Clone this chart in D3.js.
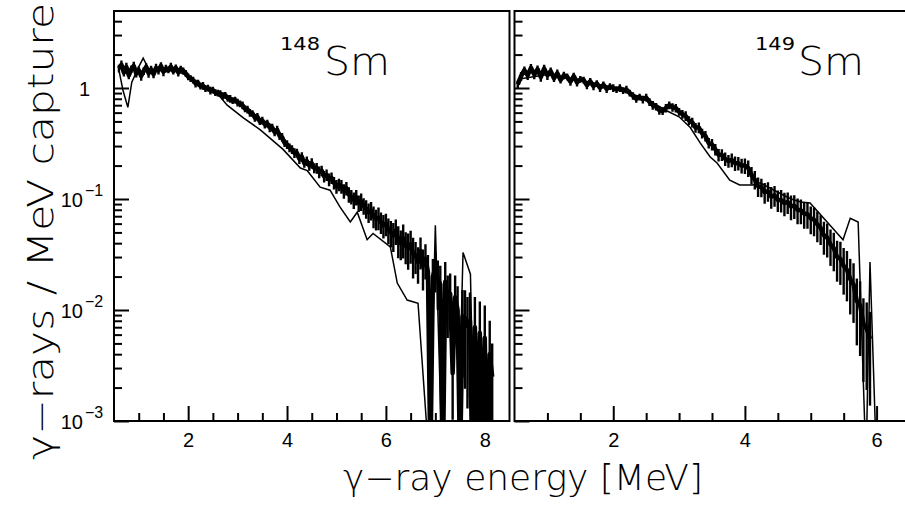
<!DOCTYPE html>
<html><head><meta charset="utf-8">
<script src="https://cdn.jsdelivr.net/npm/d3@7"></script>
<style>
body{margin:0;background:#fff}
svg{display:block}
text{font-family:"Liberation Sans",Arial,sans-serif;fill:#000}
.title{font-family:"DejaVu Sans ExtraLight","DejaVu Sans","Liberation Sans",sans-serif;font-weight:200}
.sup{font-family:"DejaVu Sans","Liberation Sans",sans-serif;font-weight:normal}
</style>
</head><body>
<svg id="chart" width="905" height="506"></svg>
<script>
// ---------------- data ----------------
// 148Sm measured spectrum (bins of 0.05 MeV starting at 0.60 MeV)
const start148 = 0.60, step148 = 0.05;
const data148 = [
  1.50,1.62,1.38,1.55,1.30,1.48,1.58,1.35,1.45,1.28,
  1.42,1.55,1.36,1.47,1.33,1.52,1.44,1.58,1.40,1.50,
  1.46,1.56,1.42,1.52,1.38,1.48,1.43,1.36,1.26,1.22,
  1.18,1.10,1.11,1.04,1.05,0.99,1.00,0.95,0.96,0.91,
  0.90,0.89,0.85,0.86,0.81,0.80,0.77,0.78,0.74,0.72,
  0.70,0.65,0.64,0.60,0.59,0.54,0.55,0.50,0.51,0.47,
  0.48,0.44,0.44,0.40,0.42,0.37,0.36,0.32,0.31,0.29,
  0.28,0.26,0.26,0.23,0.24,0.21,0.22,0.20,0.21,0.19,
  0.19,0.175,0.18,0.16,0.165,0.15,0.155,0.14,0.13,0.135,
  0.13,0.118,0.125,0.11,0.105,0.098,0.104,0.092,0.095,0.087,
  0.082,0.076,0.079,0.070,0.066,0.068,0.062,0.058,0.060,0.053,
  0.050,0.047,0.052,0.043,0.040,0.044,0.038,0.036,0.039,0.032,
  0.031,0.027,0.034,0.025,0.029,0.022,0.0004,0.020,0.024,0.019,
  0.017,0.0003,0.018,0.013,0.014,0.0027,0.013,0.010,0.0004,0.0088,
  0.0085,0.0072,0.0080,0.0003,0.0070,0.0004,0.0062,0.0003,0.0056,0.0002,
  0.0040,0.0025
];
// relative errors of the 148Sm points
const err148 = [
  .08,.09,.08,.09,.08,.08,.09,.08,.08,.09,
  .08,.08,.09,.08,.08,.09,.08,.08,.09,.08,
  .07,.08,.07,.07,.08,.07,.07,.07,.07,.07,
  .07,.08,.07,.07,.08,.07,.07,.08,.07,.07,
  .07,.07,.08,.07,.07,.08,.07,.07,.08,.07,
  .08,.07,.08,.08,.07,.08,.08,.07,.08,.08,
  .08,.09,.08,.08,.09,.08,.09,.08,.09,.09,
  .09,.10,.09,.10,.10,.09,.10,.10,.11,.10,
  .11,.12,.11,.12,.12,.13,.12,.13,.14,.13,
  .14,.15,.14,.16,.15,.17,.16,.17,.18,.17,
  .19,.20,.19,.22,.21,.23,.22,.24,.23,.26,
  .27,.29,.26,.32,.30,.34,.32,.36,.33,.40,
  .32,.36,.32,.40,.35,.42,.40,.44,.40,.47,
  .47,.52,.50,.57,.52,.62,.57,.64,.62,.72,
  .77,.82,.80,.60,.87,.60,.92,.60,.96,.60,
  1.0,1.0
];
// 148Sm simulation (thin line): energy [MeV], value
const simE148 = [0.60,0.68,0.78,0.86,1.00,1.09,1.23,1.50,1.80,2.00,2.30,2.65,2.79,3.11,3.46,3.92,4.27,4.41,4.67,4.87,5.07,5.28,5.42,5.62,5.74,6.09,6.23,6.43,6.65,6.88,7.00,7.14,7.45,7.56,7.71,7.79];
const simV148 = [1.45,0.96,0.67,1.13,1.55,1.86,1.40,1.45,1.40,1.28,1.05,0.83,0.70,0.54,0.42,0.28,0.19,0.18,0.128,0.12,0.085,0.062,0.076,0.043,0.049,0.037,0.0175,0.0123,0.0115,0.0004,0.058,0.0004,0.0004,0.033,0.021,0.0004];

// 149Sm measured spectrum (bins of 0.05 MeV starting at 0.55 MeV)
const start149 = 0.55, step149 = 0.05;
const data149 = [
  1.08,1.28,1.45,1.30,1.52,1.32,1.48,1.25,1.50,1.30,
  1.42,1.22,1.36,1.18,1.30,1.26,1.14,1.28,1.12,1.20,
  1.18,1.06,1.15,1.04,1.10,1.00,1.07,0.98,1.03,1.00,
  0.97,1.00,0.95,0.97,0.90,0.85,0.80,0.83,0.79,0.82,
  0.75,0.70,0.68,0.63,0.62,0.66,0.70,0.67,0.66,0.61,
  0.58,0.56,0.51,0.49,0.44,0.44,0.39,0.37,0.32,0.31,
  0.28,0.25,0.25,0.23,0.22,0.225,0.21,0.21,0.20,0.20,
  0.19,0.165,0.15,0.13,0.128,0.115,0.118,0.105,0.108,0.098,
  0.098,0.092,0.094,0.086,0.087,0.080,0.079,0.074,0.073,0.067,
  0.065,0.059,0.055,0.047,0.045,0.039,0.036,0.030,0.029,0.025,
  0.023,0.019,0.017,0.012,0.011,0.0075,0.0068,0.0055
];
const err149 = [
  .08,.09,.08,.09,.08,.09,.08,.09,.08,.09,
  .08,.07,.08,.07,.08,.07,.08,.07,.08,.07,
  .07,.08,.07,.08,.07,.08,.07,.08,.07,.08,
  .07,.08,.07,.08,.07,.08,.08,.07,.08,.08,
  .08,.09,.08,.09,.08,.09,.08,.09,.09,.08,
  .09,.10,.09,.10,.10,.11,.10,.11,.11,.12,
  .12,.13,.12,.14,.13,.14,.15,.14,.15,.16,
  .17,.18,.19,.20,.19,.21,.20,.22,.21,.22,
  .23,.24,.22,.25,.24,.26,.25,.27,.26,.28,
  .29,.31,.30,.33,.34,.36,.38,.40,.42,.45,
  .48,.52,.55,.60,.65,.70,.72,.75
];
const simE149 = [0.55,1.00,1.50,2.00,2.50,2.82,3.00,3.17,3.32,3.47,3.58,3.77,3.92,4.12,4.23,4.50,4.70,4.85,4.99,5.49,5.60,5.72,5.84,5.90,6.00];
const simV149 = [1.20,1.32,1.16,1.00,0.80,0.62,0.55,0.44,0.32,0.24,0.21,0.148,0.134,0.134,0.140,0.115,0.100,0.094,0.092,0.043,0.067,0.062,0.0004,0.027,0.0004];

// axes
const yDomain = [1e-3, 4.94];
const yMajor = [1e-3, 1e-2, 1e-1, 1];
const yMajorExp = ["−3", "−2", "−1", ""];
const xDomain148 = [0.5, 8.5], xMajor148 = [2, 4, 6, 8];
const xDomain149 = [0.5, 6.5], xMajor149 = [2, 4, 6];
const panelLabels = [{iso: "148", el: "Sm"}, {iso: "149", el: "Sm"}];
const xTitle = "γ−ray energy [MeV]";
const yTitle = "γ−rays / MeV capture";

// ---------------- drawing ----------------
const svg = d3.select("#chart");
const plotTop = 11, plotBottom = 421;
const y = d3.scaleLog().domain(yDomain).range([plotBottom, plotTop]);

const yMinor = [];
yMajor.forEach(d => { for (let k = 2; k <= 9; k++) if (k * d <= yDomain[1]) yMinor.push(k * d); });

function buildPts(start, step, vals, errs) {
  return vals.map((v, i) => ({e: start + i * step, v: v, r: errs[i]}));
}

const panels = [
  {x0: 114, x1: 509.5, dom: xDomain148, major: xMajor148,
   pts: buildPts(start148, step148, data148, err148),
   sim: simE148.map((e, i) => ({e, v: simV148[i]})),
   label: panelLabels[0], supX: 320, smX: 324, labels: true},
  {x0: 514.5, x1: 909.5, dom: xDomain149, major: xMajor149,
   pts: buildPts(start149, step149, data149, err149),
   sim: simE149.map((e, i) => ({e, v: simV149[i]})),
   label: panelLabels[1], supX: 795, smX: 798, labels: false}
];

panels.forEach((p, pi) => {
  const x = d3.scaleLinear().domain(p.dom).range([p.x0, p.x1]);
  const g = svg.append("g");
  const clipId = "clip" + pi;
  svg.append("clipPath").attr("id", clipId).append("rect")
    .attr("x", p.x0).attr("y", plotTop).attr("width", p.x1 - p.x0).attr("height", plotBottom - plotTop);
  const plot = g.append("g").attr("clip-path", `url(#${clipId})`);
  const yy = v => y(Math.max(v, 1e-5));

  // error bars
  plot.selectAll("line.err").data(p.pts).enter().append("line")
    .attr("x1", d => x(d.e)).attr("x2", d => x(d.e))
    .attr("y1", d => yy(d.v * (1 - d.r))).attr("y2", d => yy(d.v * (1 + d.r)))
    .attr("stroke", "#000").attr("stroke-width", 2.4);
  // data line
  plot.append("path").datum(p.pts)
    .attr("d", d3.line().x(d => x(d.e)).y(d => yy(d.v)))
    .attr("fill", "none").attr("stroke", "#000").attr("stroke-width", 4.5)
    .attr("stroke-linejoin", "round");
  // simulation line
  plot.append("path").datum(p.sim)
    .attr("d", d3.line().x(d => x(d.e)).y(d => yy(d.v)))
    .attr("fill", "none").attr("stroke", "#000").attr("stroke-width", 1.5);

  // x ticks
  const xMinor = d3.range(p.dom[0] + 0.5, p.dom[1], 0.5).filter(v => !p.major.includes(v));
  const axMaj = g.append("g").attr("transform", `translate(0,${plotBottom})`)
    .call(d3.axisBottom(x).tickValues(p.major).tickSize(-15).tickSizeOuter(0).tickPadding(12).tickFormat(d3.format("d")));
  const axMin = g.append("g").attr("transform", `translate(0,${plotBottom})`)
    .call(d3.axisBottom(x).tickValues(xMinor).tickSize(-8).tickSizeOuter(0).tickFormat(""));
  // y ticks
  const ayMaj = g.append("g").attr("transform", `translate(${p.x0},0)`)
    .call(d3.axisRight(y).tickValues(yMajor).tickSize(15).tickSizeOuter(0).tickFormat(""));
  const ayMin = g.append("g").attr("transform", `translate(${p.x0},0)`)
    .call(d3.axisRight(y).tickValues(yMinor).tickSize(8).tickSizeOuter(0).tickFormat(""));
  [axMaj, axMin, ayMaj, ayMin].forEach(a => {
    a.select(".domain").remove();
    a.selectAll("line").attr("stroke", "#000").attr("stroke-width", 2);
    a.selectAll("text").attr("font-size", 20).attr("font-family", "Liberation Sans, Arial, sans-serif").attr("fill", "#000");
  });

  // frame
  g.append("rect").attr("x", p.x0).attr("y", plotTop).attr("width", p.x1 - p.x0).attr("height", plotBottom - plotTop)
    .attr("fill", "none").attr("stroke", "#000").attr("stroke-width", 2);

  // y labels on left panel
  if (p.labels) {
    yMajor.forEach((v, i) => {
      const ty = y(v);
      if (yMajorExp[i] === "") {
        g.append("text").attr("x", 90).attr("y", ty + 8).attr("text-anchor", "end")
          .attr("font-size", 20).text("1");
      } else {
        g.append("text").attr("x", 83).attr("y", ty + 8).attr("text-anchor", "end")
          .attr("font-size", 20).text("10");
        g.append("text").attr("x", 85).attr("y", ty - 3).attr("text-anchor", "start")
          .attr("font-size", 16).text(yMajorExp[i]);
      }
    });
  }

  // panel label
  g.append("text").attr("class", "sup").attr("x", p.supX - 40).attr("y", 50)
    .attr("font-size", 18).attr("textLength", 40).attr("lengthAdjust", "spacingAndGlyphs").text(p.label.iso);
  g.append("text").attr("class", "title").attr("x", p.smX).attr("y", 75).attr("font-size", 39)
    .attr("textLength", 66).attr("lengthAdjust", "spacingAndGlyphs").text(p.label.el);
});

// axis titles
svg.append("text").attr("class", "title").attr("x", 343).attr("y", 490).attr("font-size", 35)
  .attr("textLength", 360).attr("lengthAdjust", "spacingAndGlyphs").text(xTitle);
svg.append("text").attr("class", "title").attr("transform", "translate(53,231.5) rotate(-90)")
  .attr("text-anchor", "middle").attr("font-size", 35)
  .attr("textLength", 457).attr("lengthAdjust", "spacingAndGlyphs").text(yTitle);
</script>
</body></html>
